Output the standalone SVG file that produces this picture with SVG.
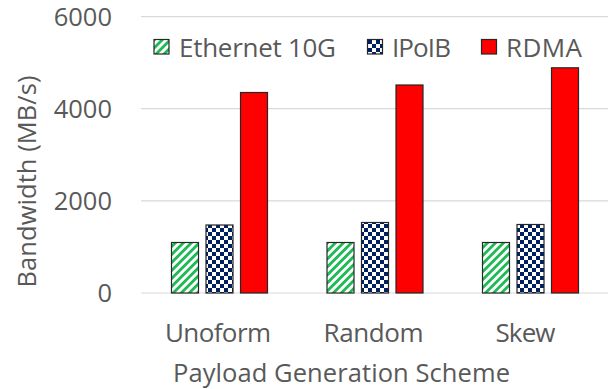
<svg xmlns="http://www.w3.org/2000/svg" width="611" height="389" viewBox="0 0 611 389">
  <style>
    text { font-family: "Open Sans", "Liberation Sans", sans-serif; fill: #595959; font-size: 26px; }
    .grid { stroke: #D9D9D9; stroke-width: 1.2; }
    .tick { text-anchor: end; font-size: 25.5px; }
    .cat { text-anchor: middle; }
    .title { font-size: 25.5px; }
    .bar { stroke: #262626; stroke-width: 1.2; }
    .eth { fill: url(#stripes); }
    .ipoib { fill: url(#checker); }
    .rdma { fill: #FF0000; }
  </style>
  <defs>
    <!-- wide upward diagonal, green on white -->
    <pattern id="stripes" patternUnits="userSpaceOnUse" x="0" y="0" width="5.66" height="10" patternTransform="rotate(45)">
      <rect width="5.66" height="10" fill="#FFFFFF"/>
      <rect x="0" y="0" width="2.8" height="10" fill="#1DB954"/>
    </pattern>
    <!-- large checkerboard, navy on white -->
    <pattern id="checker" patternUnits="userSpaceOnUse" x="0" y="0" width="8" height="8">
      <rect width="8" height="8" fill="#FFFFFF"/>
      <rect x="0" y="0" width="4" height="4" fill="#002060"/>
      <rect x="4" y="4" width="4" height="4" fill="#002060"/>
    </pattern>
  </defs>

  <!-- gridlines -->
  <g id="gridlines">
    <line class="grid" x1="141" y1="16.7" x2="608" y2="16.7"/>
    <line class="grid" x1="141" y1="108.7" x2="608" y2="108.7"/>
    <line class="grid" x1="141" y1="200.8" x2="608" y2="200.8"/>
    <line class="grid" x1="141" y1="293" x2="608" y2="293"/>
  </g>

  <!-- value axis -->
  <g id="y-axis">
    <text class="tick" x="112" y="26">6000</text>
    <text class="tick" x="112" y="118">4000</text>
    <text class="tick" x="112" y="210">2000</text>
    <text class="tick" x="112" y="302">0</text>
    <text class="title" x="36" y="181.5" text-anchor="middle" transform="rotate(-90 36 181.5)" textLength="212">Bandwidth (MB/s)</text>
  </g>

  <!-- bars -->
  <g id="series-ethernet">
    <rect class="bar eth" x="171.5" y="242.5" width="27" height="50.5"/>
    <rect class="bar eth" x="327" y="242.5" width="27" height="50.5"/>
    <rect class="bar eth" x="482.5" y="242.5" width="27" height="50.5"/>
  </g>
  <g id="series-ipoib">
    <rect class="bar ipoib" x="206" y="225" width="27" height="68"/>
    <rect class="bar ipoib" x="361.5" y="222.5" width="27" height="70.5"/>
    <rect class="bar ipoib" x="517" y="224.5" width="27" height="68.5"/>
  </g>
  <g id="series-rdma">
    <rect class="bar rdma" x="240.5" y="92.5" width="27" height="200.5"/>
    <rect class="bar rdma" x="396" y="85" width="27" height="208"/>
    <rect class="bar rdma" x="551.5" y="67.8" width="27" height="225.2"/>
  </g>

  <!-- category axis -->
  <g id="x-axis">
    <text class="cat" x="218" y="342" textLength="106">Unoform</text>
    <text class="cat" x="373.5" y="342" textLength="100">Random</text>
    <text class="cat" x="525.5" y="342" textLength="60">Skew</text>
    <text class="cat title" x="341.5" y="381.5" textLength="337">Payload Generation Scheme</text>
  </g>

  <!-- legend -->
  <g id="legend">
    <rect class="bar eth" x="154" y="39.5" width="15" height="14.5"/>
    <text x="179" y="56.5" textLength="157">Ethernet 10G</text>
    <rect class="bar ipoib" x="367.5" y="39.5" width="15" height="14.5"/>
    <text x="392" y="56.5" textLength="59">IPoIB</text>
    <rect class="bar rdma" x="481.5" y="39.5" width="15" height="14.5"/>
    <text x="506" y="56.5" textLength="76">RDMA</text>
  </g>
</svg>
